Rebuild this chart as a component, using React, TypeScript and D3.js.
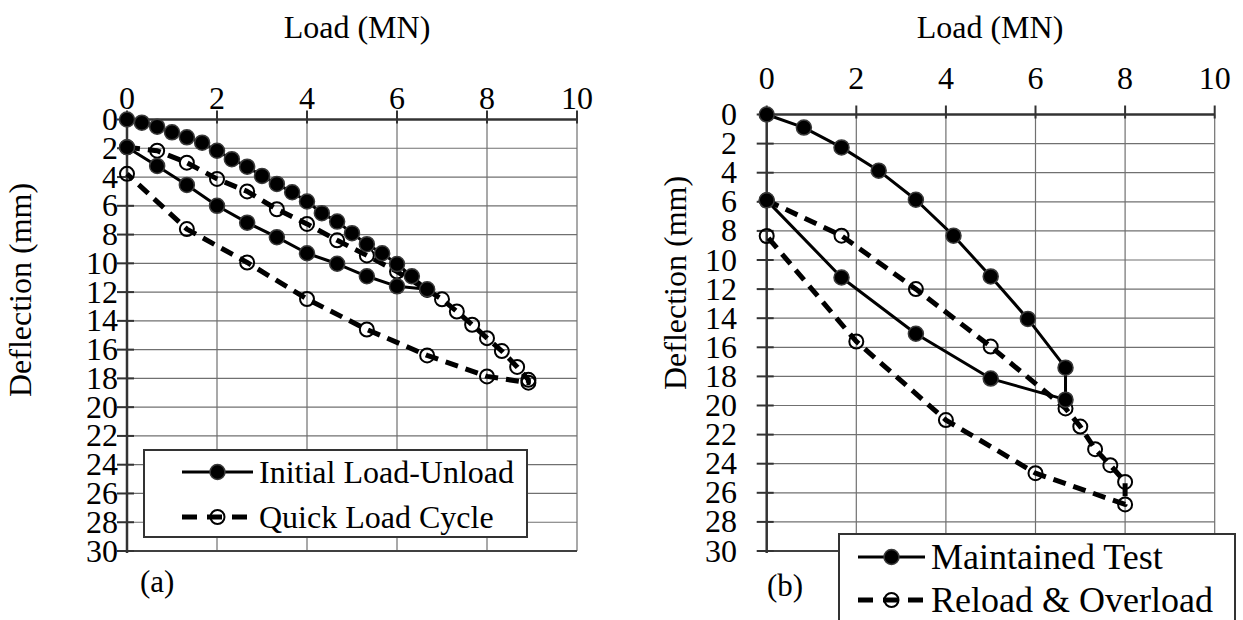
import React from "react";
import * as d3 from "d3";

// ---------- data ----------
const loadTicks = [0, 2, 4, 6, 8, 10];
const deflTicks = [0, 2, 4, 6, 8, 10, 12, 14, 16, 18, 20, 22, 24, 26, 28, 30];

// Panel (a)
const initialLoad = [0, 0.33, 0.67, 1.0, 1.33, 1.67, 2.0, 2.33, 2.67, 3.0, 3.33, 3.67, 4.0, 4.33, 4.67, 5.0, 5.33, 5.67, 6.0, 6.33, 6.67, 6.0, 5.33, 4.67, 4.0, 3.33, 2.67, 2.0, 1.33, 0.67, 0];
const initialDefl = [0, 0.22, 0.5, 0.89, 1.24, 1.61, 2.17, 2.76, 3.28, 3.92, 4.48, 5.06, 5.7, 6.51, 7.1, 7.9, 8.67, 9.3, 10.05, 10.9, 11.8, 11.6, 10.9, 10.03, 9.3, 8.18, 7.17, 6.0, 4.55, 3.23, 1.93];
const quickLoad = [0, 0.67, 1.33, 2.0, 2.67, 3.33, 4.0, 4.67, 5.33, 6.0, 6.67, 7.0, 7.33, 7.67, 8.0, 8.33, 8.67, 8.92, 8.92, 8.0, 6.67, 5.33, 4.0, 2.67, 1.33, 0];
const quickDefl = [1.93, 2.17, 3.0, 4.13, 5.0, 6.24, 7.26, 8.4, 9.45, 10.57, 11.85, 12.5, 13.35, 14.27, 15.2, 16.1, 17.2, 18.1, 18.3, 17.86, 16.4, 14.6, 12.48, 9.94, 7.62, 3.78];

// Panel (b)
const maintLoad = [0, 0.83, 1.67, 2.5, 3.33, 4.17, 5.0, 5.83, 6.67, 6.67, 5.0, 3.33, 1.67, 0];
const maintDefl = [0, 0.9, 2.26, 3.86, 5.86, 8.33, 11.13, 14.05, 17.4, 19.6, 18.15, 15.07, 11.2, 5.9];
const reloadLoad = [0, 1.67, 3.33, 5.0, 6.67, 7.0, 7.33, 7.67, 8.0, 8.0, 6.0, 4.0, 2.0, 0];
const reloadDefl = [5.9, 8.33, 12.0, 15.95, 20.2, 21.45, 23.0, 24.1, 25.25, 26.8, 24.65, 21.0, 15.6, 8.35];

const xTitle = "Load (MN)";
const yTitle = "Deflection (mm)";

const FONT = "'Liberation Serif', 'Times New Roman', serif";
const FS = 32;

type Series = { name: string; load: number[]; defl: number[]; filled: boolean };

type PanelProps = {
  xr: [number, number];
  yr: [number, number];
  series: Series[];
  yLabelX: number;
  xLabelY: number;
  titleX: number;
  yTitleX: number;
  yTitleY: number;
  legend: { x: number; y: number; w: number; h: number; rows: number[]; lineX: [number, number]; textX: number; fs: number };
  tag: string;
  tagX: number;
  tagY: number;
};

function Marker({ cx, cy, filled }: { cx: number; cy: number; filled: boolean }) {
  return filled ? (
    <circle cx={cx} cy={cy} r={7.5} fill="#000" stroke="#3a3a3a" strokeWidth={1.5} />
  ) : (
    <circle cx={cx} cy={cy} r={7} fill="none" stroke="#000" strokeWidth={2} />
  );
}

function Panel(p: PanelProps) {
  const x = d3.scaleLinear().domain([0, 10]).range(p.xr);
  const y = d3.scaleLinear().domain([0, 30]).range(p.yr);
  const line = d3
    .line<[number, number]>()
    .x((d) => x(d[0]))
    .y((d) => y(d[1]));
  const ordered = [...p.series].sort((a, b) => Number(a.filled) - Number(b.filled));
  return (
    <g>
      {deflTicks.map((t) => (
        <line key={"h" + t} x1={p.xr[0]} x2={p.xr[1]} y1={y(t)} y2={y(t)} stroke="#707070" strokeWidth={1.2} />
      ))}
      {loadTicks.map((t) => (
        <line key={"v" + t} x1={x(t)} x2={x(t)} y1={p.yr[0]} y2={p.yr[1]} stroke="#707070" strokeWidth={1.2} />
      ))}
      <line x1={p.xr[0]} x2={p.xr[1]} y1={p.yr[1]} y2={p.yr[1]} stroke="#404040" strokeWidth={2} />
      <line x1={p.xr[0]} x2={p.xr[1]} y1={p.yr[0]} y2={p.yr[0]} stroke="#333" strokeWidth={2.5} />
      {loadTicks.map((t) => (
        <line key={"xt" + t} x1={x(t)} x2={x(t)} y1={p.yr[0] - 9} y2={p.yr[0] + 4} stroke="#333" strokeWidth={2} />
      ))}
      {loadTicks.map((t) => (
        <text key={"xl" + t} x={x(t)} y={p.xLabelY} textAnchor="middle" fontFamily={FONT} fontSize={FS}>
          {t}
        </text>
      ))}
      <line x1={p.xr[0]} x2={p.xr[0]} y1={p.yr[0] - 1} y2={p.yr[1] + 2} stroke="#333" strokeWidth={2.5} />
      {deflTicks.map((t) => (
        <line key={"yt" + t} x1={p.xr[0] - 10} x2={p.xr[0] + 7} y1={y(t)} y2={y(t)} stroke="#333" strokeWidth={2} />
      ))}
      {deflTicks.map((t) => (
        <text key={"yl" + t} x={p.yLabelX} y={y(t) + 10.5} textAnchor="end" fontFamily={FONT} fontSize={FS}>
          {t}
        </text>
      ))}
      <text x={p.titleX} y={38} textAnchor="middle" fontFamily={FONT} fontSize={FS}>
        {xTitle}
      </text>
      <text
        transform={`translate(${p.yTitleX},${p.yTitleY}) rotate(-90)`}
        textAnchor="middle"
        fontFamily={FONT}
        fontSize={FS}
      >
        {yTitle}
      </text>
      {ordered.map((s) => {
        const pts = s.load.map((l, i) => [l, s.defl[i]] as [number, number]);
        return (
          <g key={s.name}>
            <path
              d={line(pts) || ""}
              fill="none"
              stroke="#000"
              strokeWidth={s.filled ? 3 : 5}
              strokeDasharray={s.filled ? undefined : "13 8"}
              strokeLinejoin="round"
            />
            {pts.map((d, i) => (
              <Marker key={i} cx={x(d[0])} cy={y(d[1])} filled={s.filled} />
            ))}
          </g>
        );
      })}
      <rect x={p.legend.x} y={p.legend.y} width={p.legend.w} height={p.legend.h} fill="#fff" stroke="#333" strokeWidth={2} />
      {p.series.map((s, i) => {
        const ry = p.legend.rows[i];
        const [lx0, lx1] = p.legend.lineX;
        const mx = (lx0 + lx1) / 2;
        return (
          <g key={"lg" + s.name}>
            <line
              x1={lx0}
              x2={lx1}
              y1={ry}
              y2={ry}
              stroke="#000"
              strokeWidth={s.filled ? 3 : 5}
              strokeDasharray={s.filled ? undefined : "15 10"}
            />
            <Marker cx={mx} cy={ry} filled={s.filled} />
            <text x={p.legend.textX} y={ry + p.legend.fs * 0.33} fontFamily={FONT} fontSize={p.legend.fs}>
              {s.name}
            </text>
          </g>
        );
      })}
      <text x={p.tagX} y={p.tagY} fontFamily={FONT} fontSize={31}>
        {p.tag}
      </text>
    </g>
  );
}

export default function App() {
  return (
    <svg width={1243} height={620} style={{ position: "absolute", left: 0, top: 0, background: "#fff" }}>
      <rect width={1243} height={620} fill="#fff" />
      <Panel
        xr={[127, 577]}
        yr={[119.5, 551]}
        series={[
          { name: "Initial Load-Unload", load: initialLoad, defl: initialDefl, filled: true },
          { name: "Quick Load Cycle", load: quickLoad, defl: quickDefl, filled: false },
        ]}
        yLabelX={118}
        xLabelY={108.5}
        titleX={357}
        yTitleX={31}
        yTitleY={290}
        legend={{ x: 144, y: 450, w: 383, h: 87, rows: [472, 517], lineX: [182, 253], textX: 259, fs: 32 }}
        tag="(a)"
        tagX={140}
        tagY={592}
      />
      <Panel
        xr={[766.7, 1214.7]}
        yr={[114.5, 551]}
        series={[
          { name: "Maintained Test", load: maintLoad, defl: maintDefl, filled: true },
          { name: "Reload & Overload", load: reloadLoad, defl: reloadDefl, filled: false },
        ]}
        yLabelX={737}
        xLabelY={88.5}
        titleX={990}
        yTitleX={686}
        yTitleY={283}
        legend={{ x: 839, y: 534, w: 396, h: 120, rows: [557, 600], lineX: [858, 925], textX: 931, fs: 36 }}
        tag="(b)"
        tagX={767}
        tagY={596}
      />
    </svg>
  );
}
